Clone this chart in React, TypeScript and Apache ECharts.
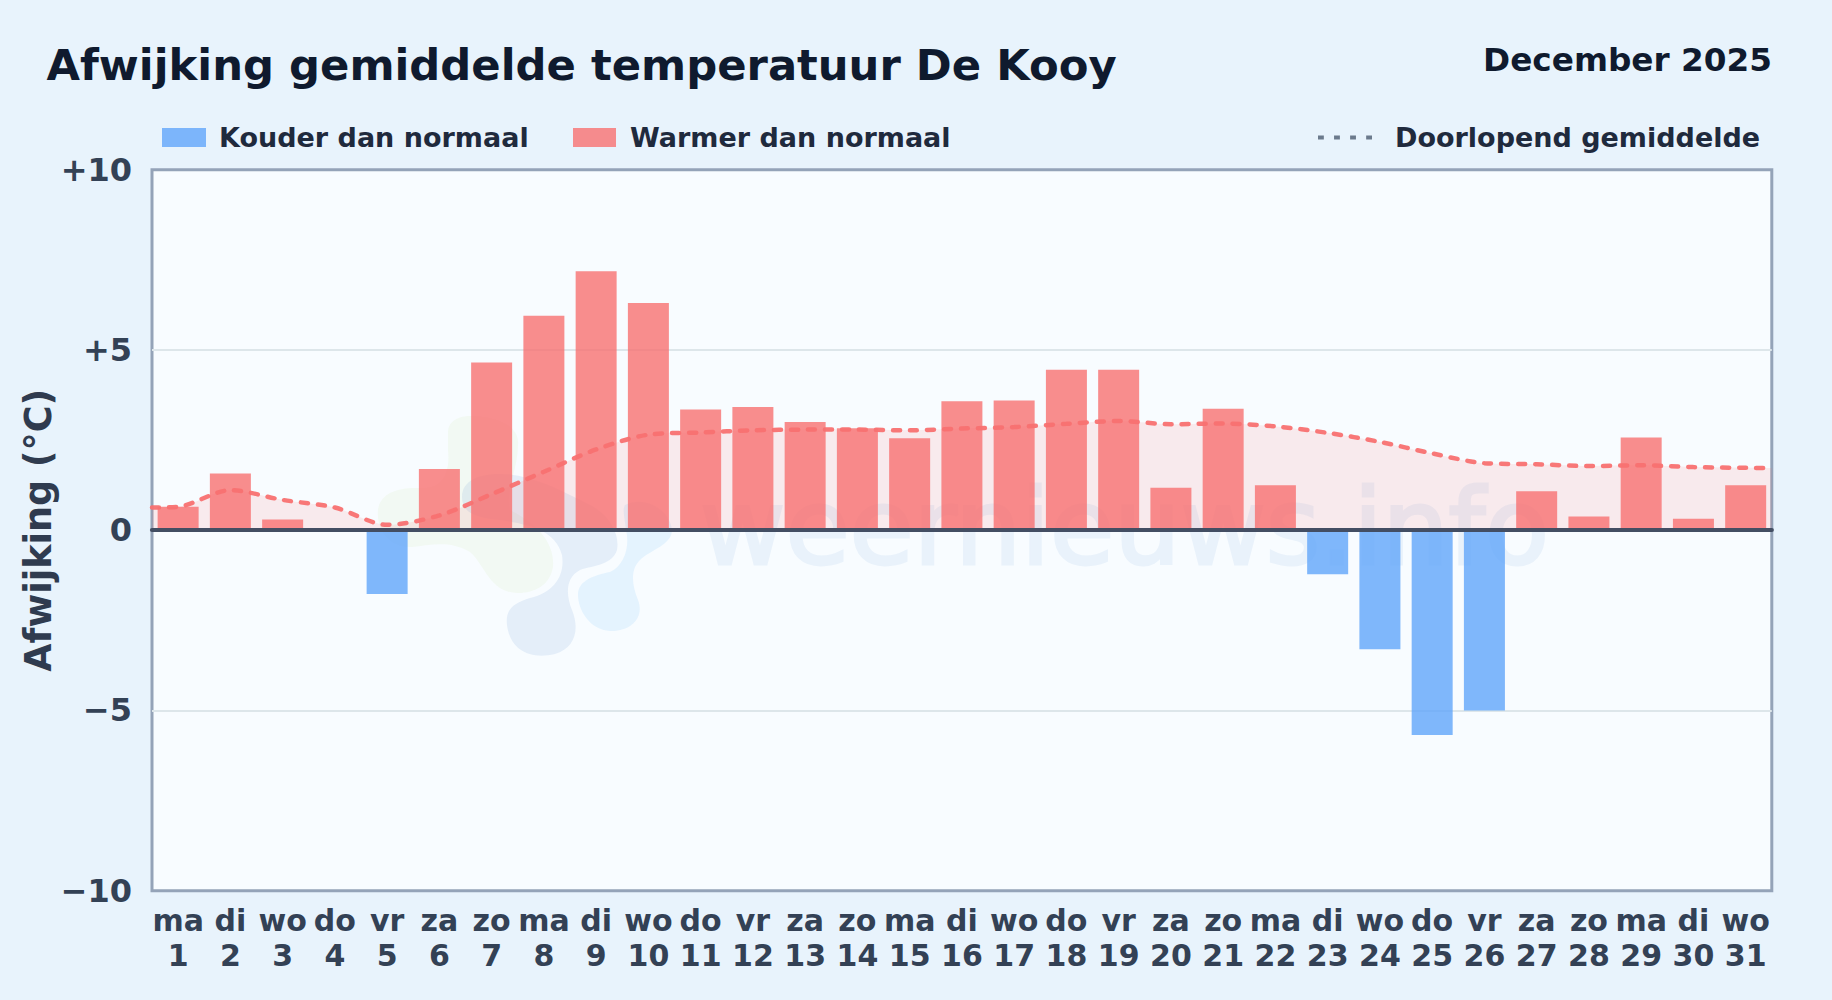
import React, { useEffect, useRef } from "react";
import * as echarts from "echarts";

const weekdays = ["ma","di","wo","do","vr","za","zo","ma","di","wo","do","vr","za","zo","ma","di","wo","do","vr","za","zo","ma","di","wo","do","vr","za","zo","ma","di","wo"];
const days = ["1","2","3","4","5","6","7","8","9","10","11","12","13","14","15","16","17","18","19","20","21","22","23","24","25","26","27","28","29","30","31"];
const deviations = [0.65,1.57,0.3,0,-1.77,1.7,4.65,5.95,7.18,6.3,3.35,3.42,3.0,2.83,2.55,3.58,3.6,4.45,4.45,1.18,3.37,1.25,-1.22,-3.3,-5.68,-5.0,1.08,0.38,2.57,0.32,1.25];
const runningMean = [0.65,1.11,0.84,0.63,0.15,0.41,1.0,1.62,2.24,2.65,2.71,2.77,2.79,2.79,2.77,2.82,2.86,2.95,3.03,2.94,2.96,2.88,2.70,2.45,2.13,1.86,1.83,1.78,1.80,1.75,1.73];
const yTicks: Record<string,string> = { "10":"+10", "5":"+5", "0":"0", "-5":"\u22125", "-10":"\u221210" };

const FONT = "'DejaVu Sans'";

echarts.graphic.registerShape("wmGreen", echarts.graphic.extendPath("M448 433C448 420 460 416 470 416C495 416 520 425 518 445C518 470 505 490 510 510C540 525 555 545 553 567C550 585 535 593 518 593C490 593 485 565 470 552C450 540 430 545 412 547C390 548 376 530 378 510C380 492 400 487 420 488C445 490 450 470 448 450Z", {}));
echarts.graphic.registerShape("wmDark", echarts.graphic.extendPath("M462 497C462 480 480 474 500 474C530 474 560 490 590 505C610 515 620 535 617 550C612 565 595 565 580 570C565 578 566 595 572 610C580 630 575 648 555 654C530 660 510 650 507 625C505 608 515 603 530 598C555 592 565 575 562 555C555 530 530 525 500 520C480 518 462 515 462 497Z", {}));
echarts.graphic.registerShape("wmLight", echarts.graphic.extendPath("M625 505C645 495 670 510 672 530C672 545 650 550 640 560C630 570 632 585 638 600C645 618 630 632 610 631C590 630 578 610 578 595C578 580 595 575 610 572C625 565 630 545 626 530C625 520 622 510 625 505Z", {}));

export default function App() {
  const ref = useRef<HTMLDivElement>(null);
  useEffect(() => {
    document.body.style.margin = "0";
    const chart = echarts.init(ref.current!, undefined, { renderer: "svg" });
    const linePts: [number, number][] = runningMean.map((v, i) => [i + 1, v]);
    const lineData: [number, number][] = [[0.5, runningMean[0] - 0.02], ...linePts, [31.5, runningMean[30] - 0.01]];
    const legendText = { fontFamily: FONT, fontWeight: "bold", fontSize: 27, color: "#1f2a3d" };
    chart.setOption({
      animation: false,
      backgroundColor: "#e8f3fc",
      title: [
        { text: "Afwijking gemiddelde temperatuur De Kooy", left: 46.5, top: 43, padding: 0, textStyle: { fontFamily: FONT, fontWeight: "bold", fontSize: 43.3, color: "#0f1a2e" } },
        { text: "December 2025", right: 60, top: 43, padding: 0, textStyle: { fontFamily: FONT, fontWeight: "bold", fontSize: 32.7, color: "#0f1a2e" } },
      ],
      legend: [
        { left: 162, top: 124, padding: 0, itemWidth: 44, itemHeight: 19, itemGap: 0, data: [{ name: "Kouder dan normaal", icon: "rect" }], textStyle: { ...legendText, padding: [0, 0, 0, 8] } },
        { left: 573, top: 124, padding: 0, itemWidth: 43, itemHeight: 19, itemGap: 0, data: [{ name: "Warmer dan normaal", icon: "rect" }], textStyle: { ...legendText, padding: [0, 0, 0, 9] } },
        { left: 1318, top: 124, padding: 0, itemWidth: 54, itemHeight: 19, itemGap: 0, data: [{ name: "Doorlopend gemiddelde", icon: "path://M0 0H6V4H0ZM16.5 0H22.5V4H16.5ZM33 0H39V4H33ZM49.5 0H55.5V4H49.5Z", itemStyle: { color: "#6b7a8c", opacity: 1 } }], textStyle: { ...legendText, padding: [0, 0, 0, 18] } },
      ],
      grid: { left: 152, top: 169.7, width: 1619.8, height: 721, show: true, backgroundColor: "#f8fcff", borderColor: "#94a3b8", borderWidth: 3 },
      xAxis: [
        {
          type: "category", data: days, z: 6,
          axisLine: { onZero: true, lineStyle: { color: "#434e63", width: 4.2 } },
          axisTick: { show: false },
          axisLabel: {
            interval: 0, margin: 12, hideOverlap: false,
            fontFamily: FONT, fontWeight: "bold", fontSize: 30, lineHeight: 35, color: "#334155",
            formatter: (_: string, i: number) => `${weekdays[i]}\n${days[i]}`,
          },
          position: "bottom",
        },
        { type: "value", min: 0.5, max: 31.5, show: false },
      ],
      yAxis: {
        type: "value", min: -10, max: 10, interval: 5,
        name: "Afwijking (\u00b0C)", nameLocation: "middle", nameGap: 95, nameRotate: 90, nameMoveOverlap: false,
        nameTextStyle: { fontFamily: FONT, fontWeight: "bold", fontSize: 36.5, color: "#2f3b4f" },
        axisLine: { show: false }, axisTick: { show: false },
        axisLabel: { margin: 20, fontFamily: FONT, fontWeight: "bold", fontSize: 32, color: "#334155", formatter: (v: number) => yTicks[String(v)] },
        splitLine: { showMinLine: false, showMaxLine: false, lineStyle: { color: "#dde6ea", width: 2 } },
      },
      graphic: [
        { type: "wmGreen", x: 0, y: 0, z: 1, silent: true, style: { fill: "rgba(132,204,22,0.05)" } },
        { type: "wmDark", x: 0, y: 0, z: 1, silent: true, style: { fill: "rgba(30,100,190,0.09)" } },
        { type: "wmLight", x: 0, y: 0, z: 1, silent: true, style: { fill: "rgba(56,170,248,0.1)" } },
        { type: "text", x: 700, y: 580, z: 1, silent: true, style: { text: "weernieuws.info", font: `104.4px ${FONT}`, fill: "#e9f2fb", stroke: "#e9f2fb", lineWidth: 3, textVerticalAlign: "bottom" } },
      ],
      series: [
        { type: "line", name: "area", xAxisIndex: 1, data: lineData, smooth: 0.3, z: 2, symbol: "none", lineStyle: { width: 0 }, areaStyle: { color: "rgba(248,113,113,0.18)" }, silent: true },
        { type: "bar", name: "Kouder dan normaal", data: deviations.map(v => (v < 0 ? v : null)), barWidth: 41, barGap: "-100%", z: 3, itemStyle: { color: "rgba(96,165,250,0.8)" } },
        { type: "bar", name: "Warmer dan normaal", data: deviations.map(v => (v >= 0 ? v : null)), barWidth: 41, barGap: "-100%", z: 3, itemStyle: { color: "rgba(248,113,113,0.8)" } },
        { type: "line", name: "Doorlopend gemiddelde", xAxisIndex: 1, data: lineData, smooth: 0.3, z: 4, symbol: "none", lineStyle: { color: "#f87171", width: 4.5, type: [7, 10], cap: "round", opacity: 0.95 } },
      ],
    });
    return () => chart.dispose();
  }, []);
  return <div ref={ref} style={{ width: 1832, height: 1000 }} />;
}
